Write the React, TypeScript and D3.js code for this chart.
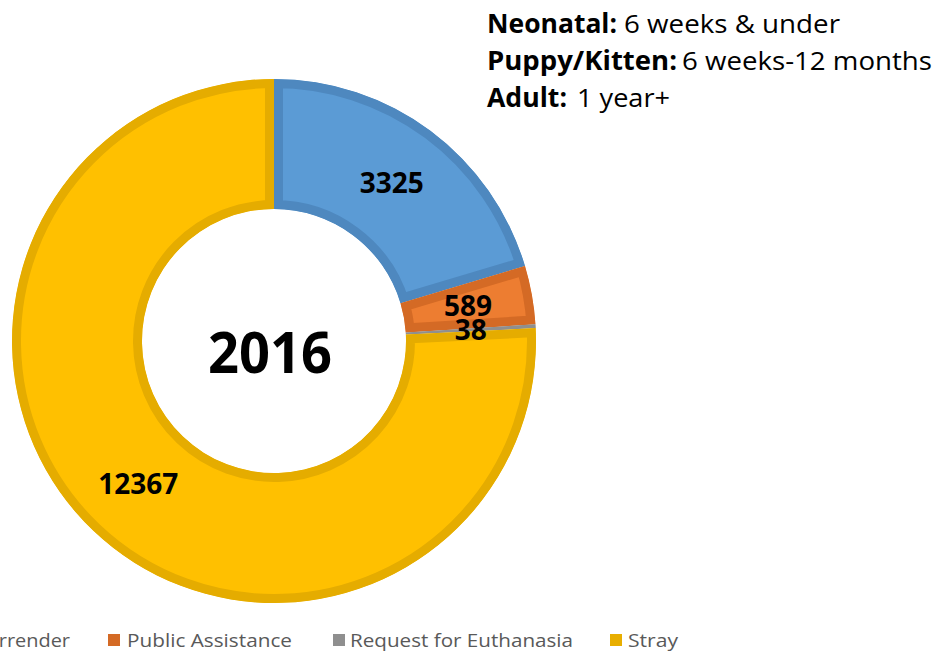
import React from "react";
import * as d3 from "d3";

const categories = ["Owner Surrender", "Public Assistance", "Request for Euthanasia", "Stray"];
const values = [3325, 589, 38, 12367];
const fills = ["#5B9BD5", "#ED7D31", "#A5A5A5", "#FFC000"];
const borders = ["#4E88BF", "#D46A25", "#8F8F8F", "#E5AC00"];
const yearLabel = "2016";
const notesBold = ["Neonatal:", "Puppy/Kitten:", "Adult:"];
const notesText = ["6 weeks & under", "6 weeks-12 months", "1 year+"];

const W = 937;
const H = 654;
const FONT = "'Open Sans', 'Noto Sans', sans-serif";

export default function App() {
  const cx = 274;
  const cy = 341;
  const rOuter = 262;
  const rInner = 132;

  const pie = d3.pie<number>().sort(null).value((d) => d).startAngle(0).endAngle(2 * Math.PI);
  const arcs = pie(values);
  const arc = d3.arc<d3.PieArcDatum<number>>().innerRadius(rInner).outerRadius(rOuter);
  const labelArc = d3.arc<d3.PieArcDatum<number>>().innerRadius(rInner).outerRadius(rOuter);

  // note layout
  const noteBaselines = [33, 70, 107];
  const boldLens = [130, 190, 80];
  const textStarts = [624, 682, 577];
  const textLens = [216, 250, 93];

  // legend layout
  const legendY = 640;
  const legendSquareX = [-99, 108, 333, 610];
  const legendTextX = [-92, 127, 350, 628];
  const legendLens = [162, 165, 223, 50];

  return (
    <svg width={W} height={H} style={{ position: "absolute", left: 0, top: 0 }}>
      <rect x={0} y={0} width={W} height={H} fill="#ffffff" />
      <defs>
        {arcs.map((a, i) => (
          <clipPath id={`clip-${i}`} key={i}>
            <path d={arc(a) || ""} transform={`translate(${cx},${cy})`} />
          </clipPath>
        ))}
      </defs>
      {arcs.map((a, i) => (
        <g key={i} clipPath={`url(#clip-${i})`}>
          <path
            d={arc(a) || ""}
            transform={`translate(${cx},${cy})`}
            fill={fills[i]}
            stroke={borders[i]}
            strokeWidth={18}
            strokeLinejoin="miter"
          />
        </g>
      ))}
      {arcs.map((a, i) => {
        const [lx, ly] = labelArc.centroid(a);
        return (
          <text
            key={i}
            x={cx + lx}
            y={cy + ly}
            dy="0.36em"
            textAnchor="middle"
            fontFamily={FONT}
            fontWeight={700}
            fontSize={28}
            fill="#000"
          >
            {values[i]}
          </text>
        );
      })}
      <text
        x={270}
        y={373}
        textAnchor="middle"
        fontFamily={FONT}
        fontWeight={700}
        fontSize={58}
        textLength={124}
        lengthAdjust="spacingAndGlyphs"
        fill="#000"
      >
        {yearLabel}
      </text>
      {notesBold.map((b, i) => (
        <g key={i}>
          <text
            x={487}
            y={noteBaselines[i]}
            fontFamily={FONT}
            fontWeight={700}
            fontSize={26}
            textLength={boldLens[i]}
            lengthAdjust="spacingAndGlyphs"
            fill="#000"
          >
            {b}
          </text>
          <text
            x={textStarts[i]}
            y={noteBaselines[i]}
            fontFamily={FONT}
            fontWeight={400}
            fontSize={26}
            textLength={textLens[i]}
            lengthAdjust="spacingAndGlyphs"
            fill="#000"
          >
            {notesText[i]}
          </text>
        </g>
      ))}
      {categories.map((c, i) => (
        <g key={i}>
          <rect x={legendSquareX[i]} y={legendY - 6} width={12} height={12} fill={i === 3 ? "#E8AE00" : borders[i]} />
          <text
            x={legendTextX[i]}
            y={legendY}
            dy="0.35em"
            fontFamily={FONT}
            fontSize={19}
            textLength={legendLens[i]}
            lengthAdjust="spacingAndGlyphs"
            fill="#595959"
          >
            {c}
          </text>
        </g>
      ))}
    </svg>
  );
}
